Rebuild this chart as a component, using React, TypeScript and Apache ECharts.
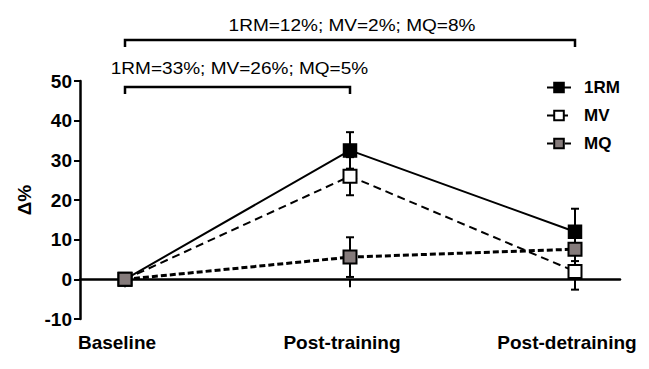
import React, { useEffect, useRef } from "react";
import * as echarts from "echarts";

const categories = ["Baseline", "Post-training", "Post-detraining"];
const xPositions = [0, 1, 2];
const seriesNames = ["1RM", "MV", "MQ"];
const rmValues = [0, 32.5, 12];
const mvValues = [0, 26, 2];
const mqValues = [0, 5.6, 7.6];
const rmErrors = [0.5, 4.6, 5.8];
const mvErrors = [0.5, 4.8, 4.6];
const mqErrors = [0.5, 5, 3];
const yTicks = [-10, 0, 10, 20, 30, 40, 50];
const bracketFrom = [0, 0];
const bracketTo = [2, 1];
const bracketTexts = ["1RM=12%; MV=2%; MQ=8%", "1RM=33%; MV=26%; MQ=5%"];

const FONT = 'Arial, "Liberation Sans", sans-serif';

export default function App() {
  const ref = useRef<HTMLDivElement>(null);

  useEffect(() => {
    if (!ref.current) return;
    const chart = echarts.init(ref.current, null, { renderer: "svg" });

    const errData: number[][] = [];
    const allVals = [rmValues, mvValues, mqValues];
    const allErr = [rmErrors, mvErrors, mqErrors];
    allVals.forEach((vals, s) => {
      vals.forEach((v, i) => {
        errData.push([xPositions[i], v - allErr[s][i], v + allErr[s][i]]);
      });
    });

    const mkPts = (vals: number[]) => vals.map((v, i) => [xPositions[i], v]);

    chart.setOption({
      animation: false,
      backgroundColor: "#fff",
      grid: { left: 80, right: 29, top: 81, bottom: 50 },
      legend: {
        data: seriesNames,
        orient: "vertical",
        left: 541,
        top: 74,
        itemWidth: 24,
        itemHeight: 12,
        itemGap: 11,
        textStyle: {
          fontFamily: FONT,
          fontWeight: "bold",
          fontSize: 17,
          color: "#000",
          padding: [0, 0, 0, 8],
        },
      },
      xAxis: [
        {
          type: "value",
          min: -0.2,
          max: 2.2,
          position: "bottom",
          axisLine: { onZero: true, lineStyle: { color: "#000", width: 2.5 } },
          axisTick: {
            show: true,
            customValues: xPositions,
            length: 8,
            lineStyle: { color: "#000", width: 2 },
          },
          axisLabel: { show: false },
          splitLine: { show: false },
        },
        {
          type: "value",
          min: -0.2,
          max: 2.2,
          position: "bottom",
          axisLine: { show: false, onZero: false },
          axisTick: { show: false },
          axisLabel: {
            customValues: xPositions,
            formatter: (v: number) => categories[Math.round(v)] ?? "",
            fontFamily: FONT,
            fontWeight: "bold",
            fontSize: 19,
            color: "#000",
            margin: 14,
            padding: [0, 16, 0, 0],
          },
          splitLine: { show: false },
        },
      ],
      yAxis: {
        type: "value",
        min: -10,
        max: 50,
        interval: 10,
        name: "Δ%",
        nameLocation: "middle",
        nameRotate: 90,
        nameGap: 46,
        nameTextStyle: {
          fontFamily: FONT,
          fontWeight: "bold",
          fontSize: 19,
          color: "#000",
        },
        axisLine: { show: true, onZero: false, lineStyle: { color: "#000", width: 2.5 } },
        axisTick: { show: true, length: 6, lineStyle: { color: "#000", width: 2 } },
        axisLabel: {
          fontFamily: FONT,
          fontWeight: "bold",
          fontSize: 19,
          color: "#000",
          margin: 8,
          formatter: (v: number) => (yTicks.includes(v) ? String(v) : ""),
        },
        splitLine: { show: false },
      },
      series: [
        {
          type: "custom",
          name: "err",
          xAxisIndex: 0,
          z: 1,
          silent: true,
          data: errData,
          encode: { x: 0, y: [1, 2] },
          renderItem: (params: any, api: any) => {
            const x = api.value(0);
            const lo = api.value(1);
            const hi = api.value(2);
            const p1 = api.coord([x, hi]);
            const p2 = api.coord([x, lo]);
            const st = { stroke: "#000", lineWidth: 2 };
            return {
              type: "group",
              children: [
                { type: "line", shape: { x1: p1[0], y1: p1[1], x2: p2[0], y2: p2[1] }, style: st },
                { type: "line", shape: { x1: p1[0] - 4, y1: p1[1], x2: p1[0] + 4, y2: p1[1] }, style: st },
                { type: "line", shape: { x1: p2[0] - 4, y1: p2[1], x2: p2[0] + 4, y2: p2[1] }, style: st },
              ],
            };
          },
        },
        {
          name: "1RM",
          type: "line",
          xAxisIndex: 0,
          z: 3,
          data: mkPts(rmValues),
          symbol: "rect",
          symbolSize: 13,
          lineStyle: { color: "#000", width: 2 },
          itemStyle: { color: "#000", borderColor: "#000", borderWidth: 1.5 },
        },
        {
          name: "MV",
          type: "line",
          xAxisIndex: 0,
          z: 4,
          data: mkPts(mvValues),
          symbol: "rect",
          symbolSize: 13,
          lineStyle: { color: "#000", width: 2, type: [8, 5] },
          itemStyle: { color: "#fff", borderColor: "#000", borderWidth: 2 },
        },
        {
          name: "MQ",
          type: "line",
          xAxisIndex: 0,
          z: 5,
          data: mkPts(mqValues),
          symbol: "rect",
          symbolSize: 13,
          lineStyle: { color: "#000", width: 3, type: [6, 3] },
          itemStyle: { color: "#857b7b", borderColor: "#000", borderWidth: 2 },
        },
      ],
    });

    const bracketY = [40, 87];
    const textY = [25, 68];
    const graphics: any[] = [];
    bracketTexts.forEach((t, i) => {
      const x1 = chart.convertToPixel({ xAxisIndex: 0 }, xPositions[bracketFrom[i]]) as number;
      const x2 = chart.convertToPixel({ xAxisIndex: 0 }, xPositions[bracketTo[i]]) as number;
      const y = bracketY[i];
      graphics.push({
        type: "polyline",
        shape: { points: [[x1, y + 7], [x1, y], [x2, y], [x2, y + 7]] },
        style: { stroke: "#000", lineWidth: 2.5, fill: null },
      });
      graphics.push({
        type: "text",
        x: (x1 + x2) / 2 + 2,
        y: textY[i],
        scaleX: 1.12,
        style: {
          text: t,
          font: `17px ${FONT}`,
          fill: "#000",
          textAlign: "center",
          textVerticalAlign: "middle",
        },
      });
    });
    chart.setOption({ graphic: graphics });

    return () => chart.dispose();
  }, []);

  return (
    <div
      ref={ref}
      style={{ position: "fixed", left: 0, top: 0, width: 649, height: 369 }}
    />
  );
}
